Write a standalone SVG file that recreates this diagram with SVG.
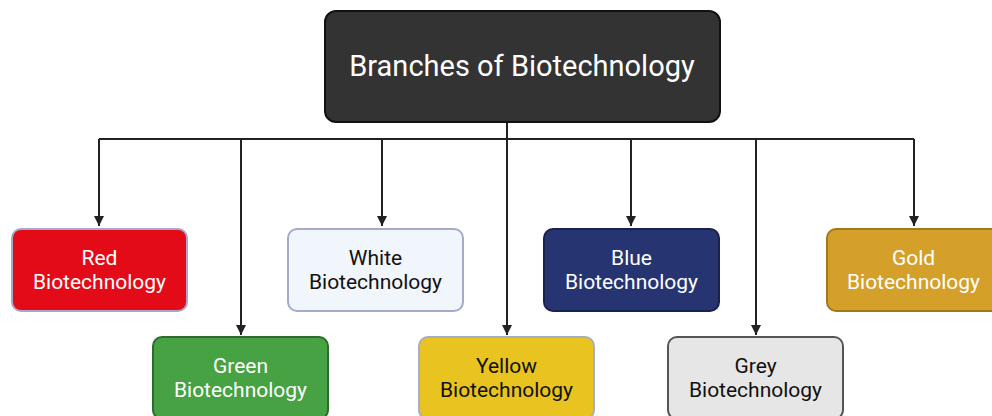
<svg xmlns="http://www.w3.org/2000/svg" width="992" height="416" viewBox="0 0 992 416">
<defs>
<marker id="arr" viewBox="0 0 10 10" refX="10" refY="5" markerWidth="10" markerHeight="10" markerUnits="userSpaceOnUse" orient="auto">
<path d="M0,0 L10,5 L0,10 Z" fill="#222"/>
</marker>
<style>
.c{fill:none;stroke:#222;stroke-width:2}
.n{stroke-width:2}
.t{font-family:Roboto,"Liberation Sans",sans-serif;font-size:21px;text-anchor:middle}
.w{fill:#ffffff}
.k{fill:#111111}
</style>
</defs>
<rect width="992" height="416" fill="#ffffff"/>
<g id="connectors">
<path class="c" d="M507,123 V139"/>
<path class="c" d="M99,139 H914"/>
<path class="c" d="M99,139 V226" marker-end="url(#arr)"/>
<path class="c" d="M241,139 V335" marker-end="url(#arr)"/>
<path class="c" d="M382,139 V226" marker-end="url(#arr)"/>
<path class="c" d="M507,139 V335" marker-end="url(#arr)"/>
<path class="c" d="M631,139 V226" marker-end="url(#arr)"/>
<path class="c" d="M756,139 V335" marker-end="url(#arr)"/>
<path class="c" d="M914,139 V226" marker-end="url(#arr)"/>
</g>
<g id="title">
<rect x="325" y="11" width="395" height="111" rx="11" fill="#333333" stroke="#111111" stroke-width="2"/>
<text x="522" y="76" font-family="Roboto,'Liberation Sans',sans-serif" font-size="29" text-anchor="middle" fill="#ffffff">Branches of Biotechnology</text>
</g>
<g id="red">
<rect class="n" x="12" y="229" width="175" height="82" rx="9" fill="#e30b17" stroke="#a9a6c8"/>
<text class="t w" x="99.5" y="265">Red</text>
<text class="t w" x="99.5" y="289">Biotechnology</text>
</g>
<g id="green">
<rect class="n" x="153" y="337" width="175" height="82" rx="9" fill="#47a243" stroke="#2f6a2e"/>
<text class="t w" x="240.5" y="373">Green</text>
<text class="t w" x="240.5" y="397">Biotechnology</text>
</g>
<g id="white">
<rect class="n" x="288" y="229" width="175" height="82" rx="9" fill="#f1f5fc" stroke="#a3abc8"/>
<text class="t k" x="375.5" y="265">White</text>
<text class="t k" x="375.5" y="289">Biotechnology</text>
</g>
<g id="yellow">
<rect class="n" x="419" y="337" width="175" height="82" rx="9" fill="#e9c31f" stroke="#a9adc0"/>
<text class="t k" x="506.5" y="373">Yellow</text>
<text class="t k" x="506.5" y="397">Biotechnology</text>
</g>
<g id="blue">
<rect class="n" x="544" y="229" width="175" height="82" rx="9" fill="#263572" stroke="#19214d"/>
<text class="t w" x="631.5" y="265">Blue</text>
<text class="t w" x="631.5" y="289">Biotechnology</text>
</g>
<g id="grey">
<rect class="n" x="668" y="337" width="175" height="82" rx="9" fill="#e6e6e6" stroke="#555555"/>
<text class="t k" x="755.5" y="373">Grey</text>
<text class="t k" x="755.5" y="397">Biotechnology</text>
</g>
<g id="gold">
<rect class="n" x="827" y="229" width="175" height="82" rx="9" fill="#d4a02a" stroke="#a4771c"/>
<text class="t w" x="913.5" y="265">Gold</text>
<text class="t w" x="913.5" y="289">Biotechnology</text>
</g>
</svg>
